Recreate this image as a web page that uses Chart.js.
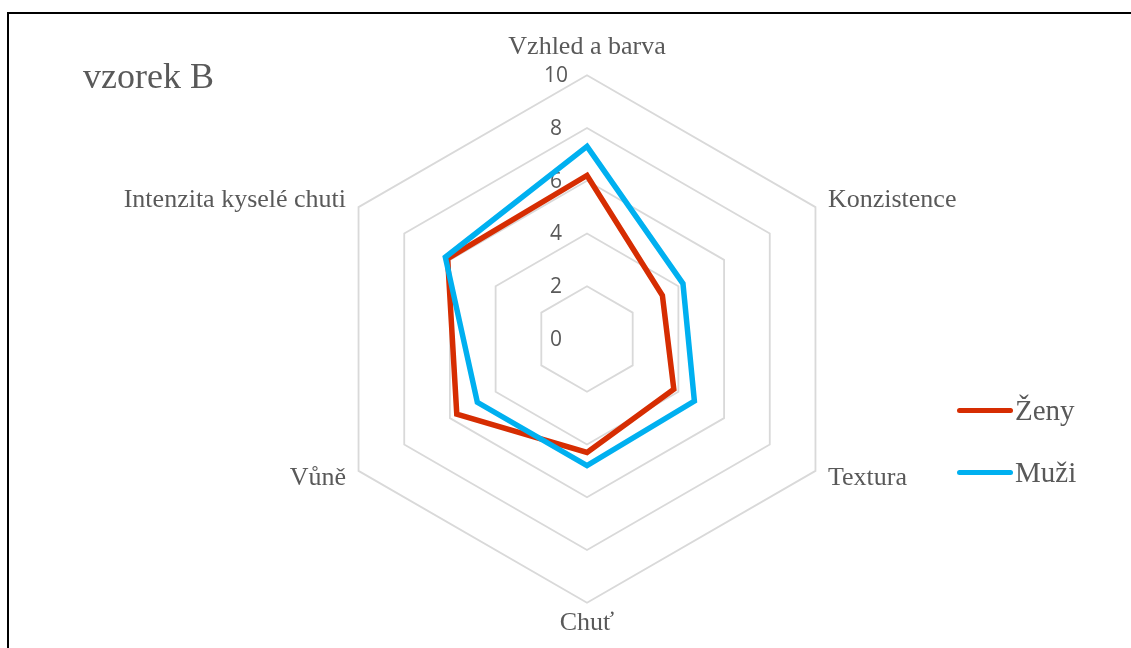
<!DOCTYPE html>
<html>
<head>
<meta charset="utf-8">
<script src="https://cdn.jsdelivr.net/npm/chart.js@4.4.1/dist/chart.umd.min.js"></script>
<style>
  html, body { margin: 0; padding: 0; background: #fff; overflow: hidden; }
  #wrap { position: relative; width: 1131px; height: 648px; }
  #frame { position: absolute; left: 7px; top: 12px; width: 1200px; height: 700px; border: 2px solid #000; box-sizing: border-box; }
  #chart { position: absolute; left: 0; top: 0; }
  #title { position: absolute; left: 83px; top: 58px; font: 36px/36px "Liberation Serif", serif; color: #595959; white-space: nowrap; }
  .item { position: absolute; left: 957px; height: 36px; display: flex; align-items: center; font: 29px "Liberation Serif", serif; color: #595959; white-space: nowrap; }
  .swatch { width: 56px; height: 5px; border-radius: 3px; margin-right: 2px; }
</style>
</head>
<body>
<div id="wrap">
  <div id="frame"></div>
  <canvas id="chart" width="1131" height="648"></canvas>
  <div id="title">vzorek B</div>
  <div id="legend"></div>
</div>
<script>
const CATEGORIES = ["Vzhled a barva", "Konzistence", "Textura", "Chuť", "Vůně", "Intenzita kyselé chuti"];
const ZENY = [6.2, 3.3, 3.8, 4.3, 5.7, 6.1];
const MUZI = [7.3, 4.2, 4.7, 4.8, 4.8, 6.2];
const SERIES_NAMES = ["Ženy", "Muži"];
const SERIES_COLORS = ["#d62d02", "#00b0f0"];
const SCALE_MIN = 0;
const SCALE_MAX = 10;
const SCALE_STEP = 2;

const GREY = "#595959";
const SERIF = "'Liberation Serif', 'Times New Roman', serif";

// per-label padding, top and bottom labels sit differently from the side ones
const LABEL_PAD = [12, 14.4, 14.4, 4.5, 14.4, 14.4];

// tick numbers sit left of the vertical axis, under the lines
const tickLabels = {
  id: "tickLabels",
  beforeDatasetsDraw(chart) {
    const s = chart.scales.r;
    const ctx = chart.ctx;
    ctx.save();
    ctx.font = "21px 'Open Sans', sans-serif";
    ctx.fillStyle = GREY;
    ctx.textAlign = "center";
    ctx.textBaseline = "middle";
    s.ticks.forEach(t => {
      const y = s.yCenter - s.getDistanceFromCenterForValue(t.value);
      ctx.fillText(t.label, s.xCenter - 31, y + 1);
    });
    ctx.restore();
  },
};

const seriesData = [ZENY, MUZI];

new Chart(document.getElementById("chart"), {
  type: "radar",
  data: {
    labels: CATEGORIES,
    datasets: seriesData.map((values, i) => ({
      label: SERIES_NAMES[i],
      data: values,
      borderColor: SERIES_COLORS[i],
      backgroundColor: SERIES_COLORS[i],
      borderWidth: 5.5,
      borderJoinStyle: "miter",
      borderCapStyle: "round",
      fill: false,
      pointRadius: 0,
      pointHoverRadius: 0,
      order: 2 - i,
    })),
  },
  options: {
    responsive: false,
    animation: false,
    layout: { padding: { left: 67, right: 24, top: 29, bottom: 5 } },
    plugins: {
      legend: { display: false },
      tooltip: { enabled: false },
    },
    scales: {
      r: {
        min: SCALE_MIN,
        max: SCALE_MAX,
        ticks: { stepSize: SCALE_STEP, display: false },
        angleLines: { display: false },
        grid: { color: "#d9d9d9", lineWidth: 1.8 },
        pointLabels: {
          color: GREY,
          padding: ctx => LABEL_PAD[ctx.index],
          font: ctx => ({
            family: SERIF,
            size: 26,
            lineHeight: (ctx.index === 0 || ctx.index === 3) ? 1.2 : 0.01,
          }),
        },
      },
    },
  },
  plugins: [tickLabels],
});

// legend built from the same series arrays
const legend = document.getElementById("legend");
const ROW_TOP = [392, 454];
SERIES_NAMES.forEach((name, i) => {
  const row = document.createElement("div");
  row.className = "item";
  row.style.top = ROW_TOP[i] + "px";
  const sw = document.createElement("span");
  sw.className = "swatch";
  sw.style.background = SERIES_COLORS[i];
  const txt = document.createElement("span");
  txt.textContent = name;
  row.appendChild(sw);
  row.appendChild(txt);
  legend.appendChild(row);
});
</script>
</body>
</html>
